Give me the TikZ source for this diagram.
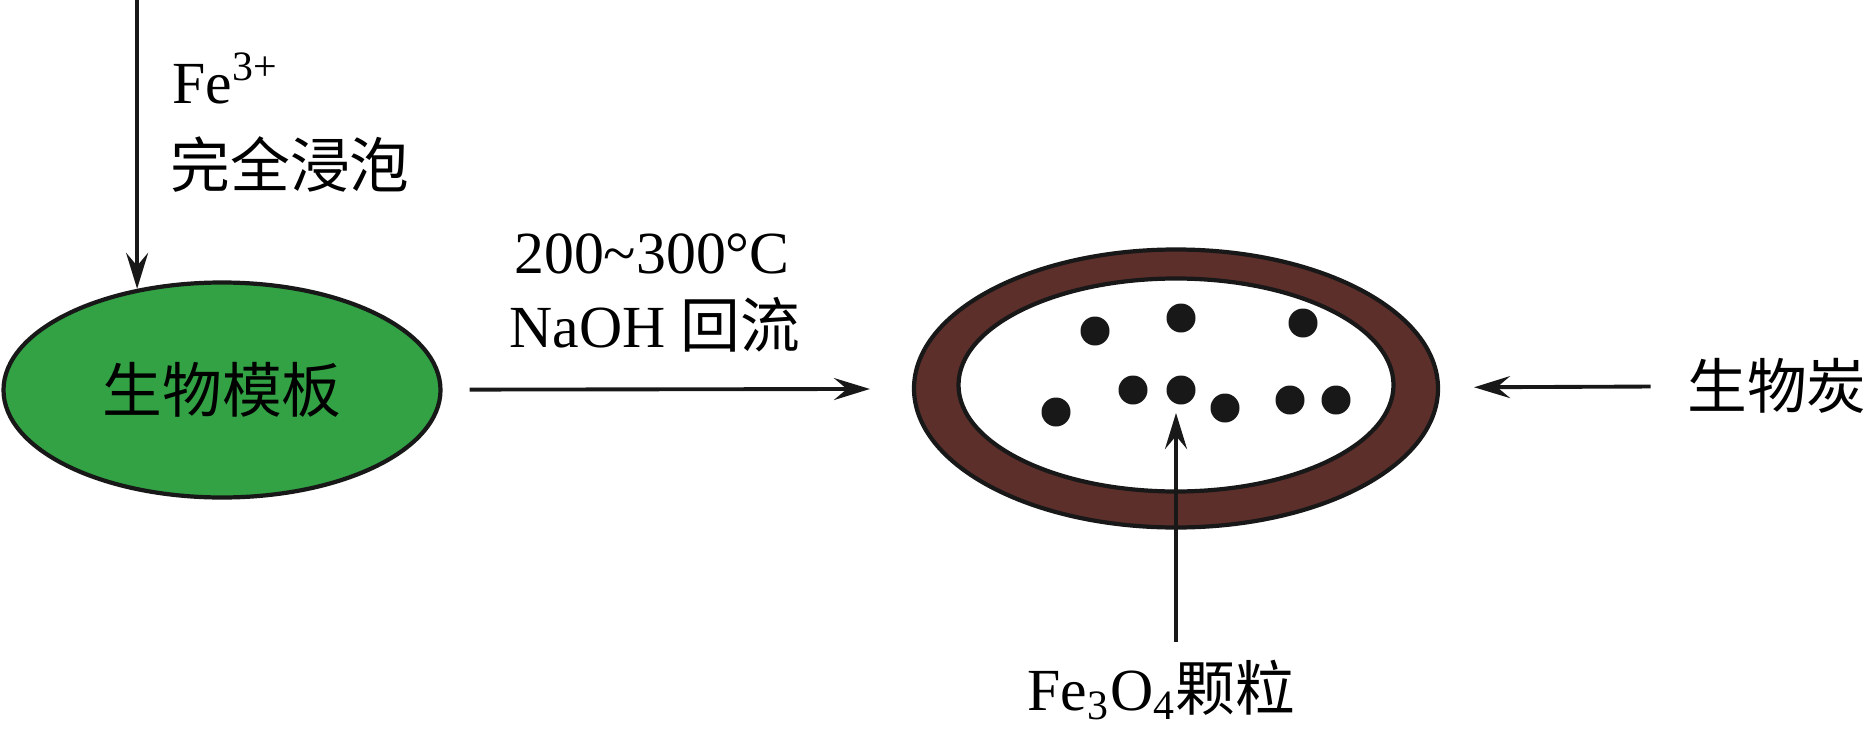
\documentclass[tikz,border=0pt]{standalone}
\usepackage{fontspec}
\setmainfont{Liberation Serif}
\newfontfamily\cjk{Noto Sans CJK SC}
\usetikzlibrary{arrows.meta,shapes.geometric}
\definecolor{templategreen}{RGB}{50,162,68}
\definecolor{charbrown}{RGB}{92,47,43}
\definecolor{inkblack}{RGB}{24,24,24}

\begin{document}
\begin{tikzpicture}[>={Stealth[length=3.6mm,width=2.2mm,inset=1.3mm]}, x=0.1mm, y=-0.1mm,
  txt/.style={font=\fontsize{17}{20}\selectfont, inner sep=0pt},
  flow/.style={->, line width=1.1pt, draw=inkblack},
  shell/.style={ellipse, draw=inkblack, line width=1.2pt}]
  \useasboundingbox (0,0) rectangle (1869,747);
  %% Left: template soaked in Fe3+
  \node[shell, fill=templategreen, minimum width=43.7mm, minimum height=21.5mm, txt] (template) at (222,390) {\cjk 生物模板};
  \coordinate (feed) at (template.130 |- 0,0);
  \draw[flow] (feed) -- (template.130);
  \node[txt, anchor=base west] (ion) at (172,103) {Fe\textsuperscript{3+}};
  \node[txt, anchor=base west] (soak) at (170,187) {\cjk 完全浸泡};
  %% Right: biochar shell with Fe3O4 particles
  \node[shell, fill=charbrown, minimum width=52.4mm, minimum height=27.8mm] (char) at (1176,388.5) {};
  \node[shell, fill=white, minimum width=43.5mm, minimum height=21.3mm] (pore) at (1176,385) {};
  \foreach \px/\py in {1095/331, 1181/318, 1303/323, 1056/412, 1133/390, 1181/390, 1225/408, 1290/400, 1336/400}
    \fill[inkblack] (\px,\py) circle (1.45mm);
  %% Reaction step
  \draw[flow, shorten <=2.7mm, shorten >=4.2mm] (template) -- (char);
  \node[txt, anchor=base] (temp) at (652,273) {200\textasciitilde300°C};
  \node[txt, anchor=base] (reflux) at (655,347) {NaOH {\cjk 回流}};
  %% Labels
  \node[txt] (biochar) at (1777,386) {\cjk 生物炭};
  \draw[flow, shorten <=3.6mm, shorten >=3.4mm] (biochar) -- (char);
  \node[txt, anchor=base west] (particles) at (1027,710) {Fe\textsubscript{3}O\textsubscript{4}{\cjk 颗粒}};
  \coordinate (tip) at (1176,413);
  \draw[flow, shorten <=1.7mm] (particles.north -| tip) -- (tip);
\end{tikzpicture}
\end{document}
